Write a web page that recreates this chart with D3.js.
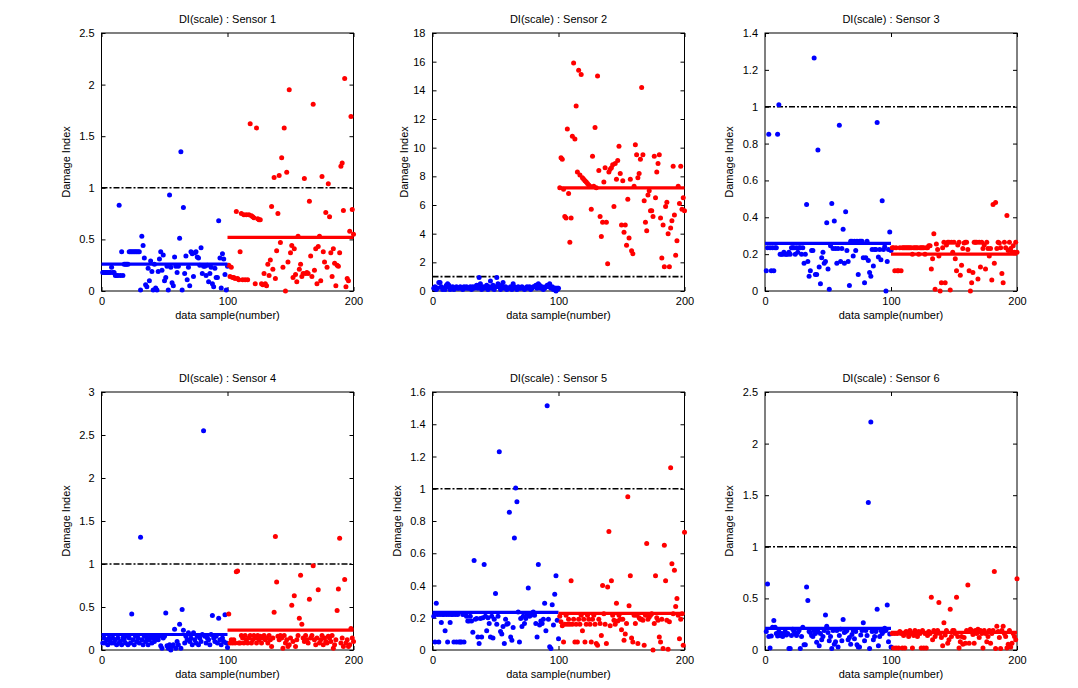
<!DOCTYPE html>
<html><head><meta charset="utf-8">
<script src="https://cdn.jsdelivr.net/npm/d3@7"></script>
<style>
body{margin:0;background:#fff;}
text{font-family:"Liberation Sans",Arial,sans-serif;}
</style></head>
<body><svg id="c" width="1078" height="688"></svg>
<script>
const titles = ["DI(scale) : Sensor 1","DI(scale) : Sensor 2","DI(scale) : Sensor 3","DI(scale) : Sensor 4","DI(scale) : Sensor 5","DI(scale) : Sensor 6"];
const yMax = [2.5, 18, 1.4, 3, 1.6, 2.5];
const yStep = [0.5, 2, 0.2, 0.5, 0.2, 0.5];
const xTicks = [0, 100, 200];
const threshold = 1;
const blueMean = [0.26, 0.25, 0.258, 0.18, 0.233, 0.21];
const redMean = [0.52, 7.2, 0.20, 0.23, 0.227, 0.17];

const blue1 = [0.18,0.18,0.18,0.18,0.18,0.18,0.18,0.23,0.18,0.18, 0.15,0.15,0.15,0.83,0.15,0.38,0.15,0.26,0.26,0.26, 0.26,0.38,0.38,0.38,0.38,0.38,0.38,0.38,0.38,0.38, 0.01,0.53,0.44,0.32,0.06,0.04,0.22,0.10,0.29,0.19, 0.01,0.26,0.03,0.01,0.19,0.31,0.38,0.20,0.35,0.10, 0.13,0.24,0.01,0.93,0.23,0.08,0.05,0.33,0.24,0.18, 0.24,0.51,1.35,0.01,0.81,0.17,0.34,0.11,0.23,0.05, 0.38,0.36,0.14,0.37,0.38,0.33,0.32,0.25,0.42,0.17, 0.24,0.24,0.15,0.25,0.09,0.17,0.23,0.07,0.04,0.22, 0.13,0.13,0.68,0.32,0.03,0.36,0.31,0.16,0.01,0.24];
const red1 = [0.25,0.14,0.23,0.13,0.13,0.12,0.77,0.12,0.11,0.38, 0.75,0.11,0.74,0.11,0.74,0.11,0.74,1.62,0.73,0.72, 0.71,0.07,1.58,0.70,0.69,0.69,0.07,0.06,0.17,0.07, 0.05,0.26,0.15,0.30,0.82,0.21,1.10,0.12,0.39,0.75, 1.12,0.47,1.29,0.23,1.58,0.00,1.15,0.28,1.95,0.37, 0.44,0.13,0.41,0.16,0.09,0.53,0.21,0.26,0.14,0.17, 1.09,0.17,0.18,0.17,0.87,0.34,0.14,1.81,0.20,0.41, 0.07,0.43,0.53,0.10,1.11,0.38,0.28,0.76,0.23,1.04, 0.72,0.37,0.14,0.41,0.27,0.05,0.25,0.24,0.37,1.21, 1.24,0.78,2.06,0.04,0.12,0.10,0.58,1.69,0.79,0.55];

const blue2 = [0.2,0.3,0.1,0.2,0.6,0.6,0.3,0.1,0.2,0.1, 0.4,0.5,0.4,0.1,0.2,0.3,0.1,0.2,0.3,0.2, 0.2,0.3,0.2,0.1,0.3,0.2,0.3,0.2,0.2,0.3, 0.1,0.3,0.2,0.3,0.4,0.2,0.95,0.5,0.1,0.3, 0.2,0.3,0.4,0.1,0.3,0.7,0.2,0.4,0.1,0.3, 0.95,0.5,0.3,0.1,0.4,0.6,0.2,0.3,0.1,0.2, 0.2,0.3,0.1,0.5,0.3,0.2,0.1,0.3,0.2,0.2, 0.3,0.2,0.1,0.2,0.3,0.2,0.3,0.1,0.2,0.3, 0.3,0.4,0.2,0.5,0.4,0.2,0.3,0.1,0.2,0.3, 0.4,0.3,0.5,0.2,0.3,0.1,0.2,0.0,0.1,0.2];
const red2 = [7.2,9.3,9.2,7.1,5.2,5.1,11.3,6.8,3.4,5.1, 10.8,15.9,10.6,12.9,8.3,15.4,8.1,15.1,7.9,7.8, 7.7,7.6,7.5,7.4,7.3,5.7,9.4,7.3,11.4,7.2, 15.0,8.4,5.2,3.8,4.8,7.6,8.6,4.8,1.9,8.3, 8.5,8.6,8.8,5.9,8.9,7.8,9.1,10.1,8.2,4.6, 7.7,4.1,4.6,3.2,6.4,3.7,7.8,2.8,2.6,7.3, 10.2,9.5,7.9,8.2,9.2,14.2,9.5,6.3,4.8,4.2, 6.7,7.0,5.6,5.6,5.2,9.4,6.5,8.3,8.9,9.5, 5.1,2.3,4.6,1.7,5.9,6.2,4.0,1.7,4.4,4.9, 8.7,5.3,2.5,3.5,7.3,6.1,8.7,5.7,6.5,5.6];

const blue3 = [0.11,0.235,0.85,0.235,0.11,0.235,0.11,0.235,0.235,0.85, 1.01,0.20,0.20,0.20,0.21,0.20,0.20,0.20,0.21,0.20, 0.235,0.235,0.235,0.20,0.235,0.21,0.235,0.235,0.20,0.235, 0.15,0.20,0.47,0.16,0.08,0.11,0.22,0.22,1.265,0.09, 0.09,0.765,0.13,0.04,0.18,0.21,0.15,0.16,0.37,0.12, 0.01,0.245,0.475,0.23,0.38,0.23,0.15,0.23,0.90,0.16, 0.23,0.335,0.15,0.43,0.22,0.16,0.03,0.27,0.27,0.19, 0.27,0.22,0.27,0.09,0.27,0.27,0.27,0.18,0.045,0.18, 0.27,0.165,0.10,0.08,0.225,0.135,0.225,0.225,0.915,0.185, 0.225,0.17,0.49,0.225,0.24,0.0,0.16,0.225,0.32,0.22];
const red3 = [0.235,0.235,0.11,0.235,0.11,0.11,0.235,0.11,0.235,0.235, 0.235,0.235,0.235,0.235,0.235,0.235,0.20,0.235,0.235,0.235, 0.235,0.20,0.235,0.235,0.235,0.235,0.20,0.235,0.235,0.245, 0.245,0.12,0.175,0.31,0.01,0.255,0.225,0.19,0.0,0.045, 0.235,0.265,0.045,0.25,0.265,0.265,0.005,0.265,0.21,0.265, 0.175,0.11,0.25,0.265,0.085,0.14,0.23,0.26,0.265,0.265, 0.225,0.11,0.0,0.045,0.10,0.265,0.265,0.265,0.065,0.265, 0.13,0.265,0.23,0.25,0.12,0.265,0.23,0.19,0.23,0.06, 0.47,0.15,0.48,0.23,0.265,0.26,0.235,0.095,0.045,0.265, 0.235,0.41,0.22,0.265,0.23,0.21,0.245,0.21,0.265,0.21];

const blue4 = [0.08,0.14,0.08,0.12,0.06,0.14,0.10,0.08,0.14,0.08, 0.12,0.06,0.14,0.08,0.10,0.06,0.14,0.12,0.08,0.16, 0.06,0.14,0.08,0.42,0.12,0.06,0.16,0.10,0.14,0.08, 1.31,0.12,0.06,0.16,0.10,0.14,0.06,0.12,0.16,0.08, 0.14,0.10,0.16,0.14,0.12,0.16,0.05,0.02,0.14,0.16, 0.43,0.05,0.02,0.06,0.0,0.04,0.06,0.24,0.02,0.10, 0.06,0.30,0.02,0.47,0.23,0.08,0.16,0.12,0.20,0.10, 0.14,0.06,0.20,0.12,0.08,0.16,0.06,0.14,0.10,0.18, 2.55,0.16,0.08,0.14,0.12,0.06,0.18,0.40,0.14,0.10, 0.16,0.08,0.37,0.12,0.06,0.14,0.10,0.41,0.08,0.03];
const red4 = [0.42,0.08,0.12,0.08,0.12,0.08,0.91,0.92,0.08,0.08, 0.17,0.14,0.08,0.17,0.12,0.08,0.14,0.17,0.08,0.12, 0.17,0.14,0.08,0.17,0.12,0.16,0.08,0.14,0.17,0.12, 0.14,0.08,0.17,0.12,0.04,0.14,0.44,1.32,0.79,0.16, 0.12,0.17,0.14,0.02,0.17,0.08,0.12,0.04,0.06,0.14, 0.52,0.10,0.63,0.04,0.12,0.17,0.37,0.87,0.30,0.14, 0.10,0.17,0.12,0.08,0.59,0.14,0.17,0.98,0.12,0.06, 0.14,0.70,0.08,0.12,0.17,0.06,0.14,0.10,0.08,0.16, 0.14,0.10,0.17,0.02,0.06,0.12,0.46,0.71,1.30,0.08, 0.14,0.04,0.82,0.08,0.12,0.04,0.06,0.25,0.14,0.10];

const blue5 = [0.21,0.05,0.29,0.22,0.05,0.22,0.17,0.22,0.22,0.12, 0.22,0.05,0.22,0.17,0.22,0.22,0.05,0.22,0.05,0.22, 0.05,0.05,0.05,0.22,0.05,0.22,0.21,0.18,0.18,0.21, 0.18,0.11,0.555,0.19,0.195,0.08,0.04,0.195,0.08,0.20, 0.53,0.21,0.12,0.20,0.165,0.08,0.21,0.075,0.19,0.35, 0.16,0.21,1.23,0.115,0.10,0.145,0.04,0.19,0.16,0.165, 0.855,0.08,0.06,0.14,0.695,1.005,0.92,0.235,0.05,0.195, 0.145,0.21,0.165,0.195,0.22,0.385,0.21,0.215,0.23,0.235, 0.215,0.165,0.08,0.53,0.155,0.18,0.165,0.19,0.29,0.12, 1.515,0.19,0.02,0.01,0.28,0.155,0.345,0.46,0.185,0.07];
const red5 = [0.21,0.175,0.15,0.05,0.16,0.215,0.16,0.19,0.16,0.43, 0.16,0.19,0.05,0.16,0.05,0.19,0.16,0.215,0.12,0.19, 0.05,0.16,0.215,0.19,0.16,0.05,0.19,0.215,0.16,0.04, 0.03,0.19,0.165,0.09,0.40,0.225,0.16,0.04,0.39,0.735, 0.15,0.43,0.215,0.185,0.16,0.29,0.18,0.215,0.19,0.125, 0.19,0.06,0.10,0.165,0.95,0.275,0.46,0.075,0.05,0.215, 0.165,0.215,0.04,0.20,0.19,0.19,0.185,0.03,0.215,0.66, 0.19,0.205,0.215,0.225,0.0,0.165,0.46,0.20,0.185,0.08, 0.05,0.19,0.01,0.65,0.43,0.185,0.005,0.175,1.13,0.535, 0.225,0.495,0.27,0.32,0.215,0.07,0.19,0.225,0.03,0.73];

const blue6 = [0.18,0.64,0.13,0.02,0.135,0.22,0.285,0.22,0.16,0.135, 0.18,0.14,0.16,0.13,0.16,0.18,0.145,0.16,0.015,0.015, 0.14,0.20,0.18,0.16,0.14,0.17,0.19,0.015,0.13,0.22, 0.05,0.05,0.61,0.48,0.18,0.17,0.14,0.13,0.19,0.16, 0.075,0.18,0.04,0.16,0.10,0.13,0.19,0.34,0.23,0.17, 0.09,0.13,0.015,0.19,0.055,0.08,0.19,0.03,0.14,0.20, 0.09,0.295,0.17,0.18,0.19,0.10,0.12,0.055,0.15,0.19, 0.11,0.18,0.05,0.03,0.03,0.145,0.19,0.265,0.09,0.19, 0.14,1.43,0.015,2.21,0.18,0.10,0.13,0.18,0.395,0.04, 0.13,0.19,0.16,0.18,0.21,0.19,0.435,0.08,0.155,0.03];
const red6 = [0.16,0.02,0.16,0.02,0.16,0.02,0.18,0.16,0.02,0.14, 0.02,0.18,0.16,0.13,0.19,0.16,0.02,0.14,0.19,0.16, 0.13,0.18,0.16,0.02,0.19,0.02,0.16,0.02,0.14,0.18, 0.16,0.51,0.10,0.19,0.13,0.16,0.19,0.46,0.16,0.12, 0.04,0.265,0.145,0.19,0.065,0.10,0.395,0.13,0.19,0.19, 0.16,0.51,0.13,0.02,0.08,0.13,0.055,0.12,0.065,0.19, 0.63,0.065,0.20,0.19,0.15,0.065,0.19,0.16,0.20,0.12, 0.19,0.16,0.02,0.19,0.16,0.08,0.13,0.19,0.065,0.16, 0.19,0.76,0.015,0.23,0.18,0.12,0.015,0.19,0.23,0.16, 0.13,0.02,0.055,0.19,0.03,0.065,0.16,0.13,0.10,0.69];

const blueSeries = [blue1, blue2, blue3, blue4, blue5, blue6];
const redSeries = [red1, red2, red3, red4, red5, red6];

const svg = d3.select("#c");
const colLeft = [101.5, 432.5, 765];
const rowTop = [33, 392];
const W = 252, H = 258;
const labelOffset = [-32, -25, -32, -32, -32, -32];

for (let p = 0; p < 6; p++) {
  const ox = colLeft[p % 3], oy = rowTop[Math.floor(p / 3)];
  const g = svg.append("g").attr("transform", `translate(${ox},${oy})`);
  const x = d3.scaleLinear().domain([0, 200]).range([0, W]);
  const y = d3.scaleLinear().domain([0, yMax[p]]).range([H, 0]);
  const yt = d3.range(0, yMax[p] + yStep[p] / 2, yStep[p]).map(v => +v.toFixed(2));

  g.append("g").attr("transform", `translate(0,${H})`)
    .call(d3.axisBottom(x).tickValues(xTicks).tickSizeInner(-4).tickSizeOuter(0).tickPadding(6).tickFormat(d3.format("d")));
  g.append("g").call(d3.axisTop(x).tickValues(xTicks).tickSizeInner(-4).tickSizeOuter(0).tickFormat(""));
  g.append("g").call(d3.axisLeft(y).tickValues(yt).tickSizeInner(-4).tickSizeOuter(0).tickPadding(7).tickFormat(d => d3.format("~g")(d)));
  g.append("g").attr("transform", `translate(${W},0)`).call(d3.axisRight(y).tickValues(yt).tickSizeInner(-4).tickSizeOuter(0).tickFormat(""));
  g.selectAll(".domain").attr("stroke", "none");
  g.selectAll(".tick line").attr("stroke", "#000");
  g.selectAll(".tick text").attr("font-size", 11).attr("fill", "#000").attr("font-family", "Liberation Sans, Arial, sans-serif");

  g.append("rect").attr("width", W).attr("height", H).attr("fill", "none").attr("stroke", "#000").attr("stroke-width", 1);

  const clip = "clip" + p;
  g.append("clipPath").attr("id", clip).append("rect").attr("x", -3).attr("y", -3).attr("width", W + 6).attr("height", H + 6);
  const pg = g.append("g").attr("clip-path", `url(#${clip})`);

  pg.append("line").attr("x1", x(0)).attr("x2", x(200)).attr("y1", y(threshold)).attr("y2", y(threshold))
    .attr("stroke", "#000").attr("stroke-width", 1.6).attr("stroke-dasharray", "6,2,2,2");

  pg.selectAll(".b").data(blueSeries[p]).enter().append("circle")
    .attr("cx", (d, i) => x(i + 1)).attr("cy", d => y(d)).attr("r", 2.5).attr("fill", "#0000ff");
  pg.selectAll(".r").data(redSeries[p]).enter().append("circle")
    .attr("cx", (d, i) => x(i + 101)).attr("cy", d => y(d)).attr("r", 2.5).attr("fill", "#ff0000");

  pg.append("line").attr("x1", x(0)).attr("x2", x(100)).attr("y1", y(blueMean[p])).attr("y2", y(blueMean[p]))
    .attr("stroke", "#0000ff").attr("stroke-width", 3.2);
  pg.append("line").attr("x1", x(100)).attr("x2", x(200)).attr("y1", y(redMean[p])).attr("y2", y(redMean[p]))
    .attr("stroke", "#ff0000").attr("stroke-width", 3.2);

  g.append("text").attr("x", W / 2).attr("y", -10).attr("text-anchor", "middle").attr("font-size", 11).text(titles[p]);
  g.append("text").attr("x", W / 2).attr("y", H + 28).attr("text-anchor", "middle").attr("font-size", 11).text("data sample(number)");
  g.append("text").attr("transform", `translate(${labelOffset[p]},${H / 2}) rotate(-90)`).attr("text-anchor", "middle").attr("font-size", 11).text("Damage Index");
}
</script></body></html>
